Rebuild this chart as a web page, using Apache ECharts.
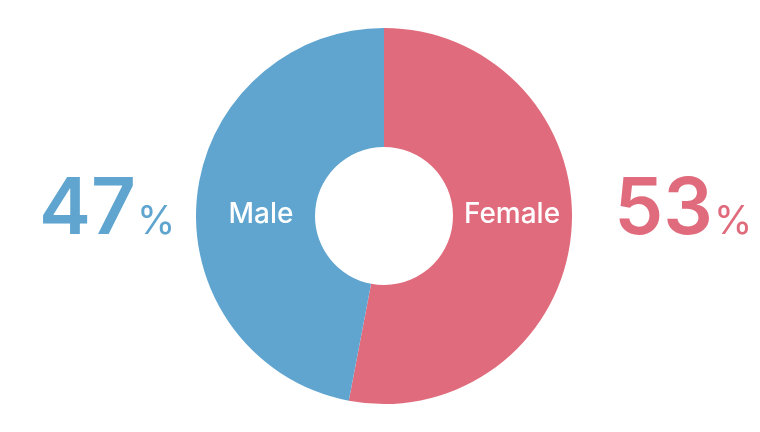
<!DOCTYPE html>
<html><head><meta charset="utf-8">
<script src="https://cdn.jsdelivr.net/npm/echarts@6/dist/echarts.min.js"></script>
<style>html,body{margin:0;padding:0;background:#fff}#c{width:760px;height:432px}</style>
</head><body><div id="c"></div>
<script>
const categories = ['Female', 'Male'];
const values = [53, 47];
const colors = ['#e06b7c', '#5fa5d0'];
const pctLabels = ['53', '47'];

const chart = echarts.init(document.getElementById('c'), null, {renderer: 'canvas'});
const cx = 384, cy = 216;
const font = 'Inter, Lato, sans-serif';
chart.setOption({
  animation: false,
  series: [{
    type: 'pie',
    center: [cx, cy],
    radius: [69, 188],
    startAngle: 90,
    clockwise: true,
    label: {show: false},
    labelLine: {show: false},
    emphasis: {disabled: true},
    data: categories.map((c, i) => ({name: c, value: values[i], itemStyle: {color: colors[i]}}))
  }],
  graphic: {
    elements: [
      {type: 'text', z: 100, x: 261, y: 215, style: {text: categories[1], fill: '#fff', font: '500 28px ' + font, align: 'center', verticalAlign: 'middle'}},
      {type: 'text', z: 100, x: 512, y: 215, style: {text: categories[0], fill: '#fff', font: '500 28px ' + font, align: 'center', verticalAlign: 'middle'}},
      {type: 'text', z: 100, x: 136, y: 250, style: {text: pctLabels[1], fill: colors[1], font: '600 78px ' + font, align: 'right', verticalAlign: 'bottom'}},
      {type: 'text', z: 100, x: 137, y: 242, style: {text: '%', fill: colors[1], font: '400 39px ' + font, align: 'left', verticalAlign: 'bottom'}},
      {type: 'text', z: 100, x: 713, y: 250, style: {text: pctLabels[0], fill: colors[0], font: '600 78px ' + font, align: 'right', verticalAlign: 'bottom'}},
      {type: 'text', z: 100, x: 714, y: 242, style: {text: '%', fill: colors[0], font: '400 39px ' + font, align: 'left', verticalAlign: 'bottom'}}
    ]
  }
});
</script></body></html>
